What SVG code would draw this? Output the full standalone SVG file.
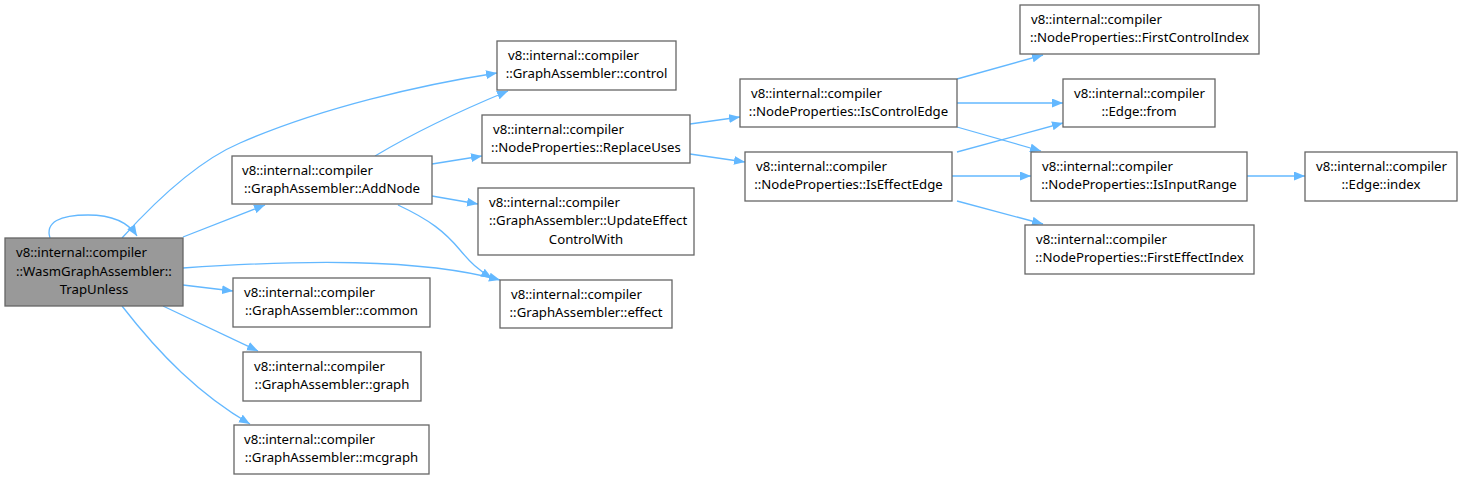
<svg xmlns="http://www.w3.org/2000/svg" width="1473" height="479" viewBox="0 0 1473 479">
<style>
.n rect{fill:#fff;stroke:#666;stroke-width:1.3}
.n.cur rect{fill:#999}
.n text{font-family:"Noto Sans","Open Sans","DejaVu Sans",sans-serif;font-size:13.2px;fill:#000}
.n text.c{text-anchor:middle}
#edges path{fill:none;stroke:#63b8ff;stroke-width:1.3;marker-end:url(#ah)}
</style>
<defs>
<marker id="ah" markerUnits="userSpaceOnUse" markerWidth="12" markerHeight="9" refX="11" refY="4.5" orient="auto">
<path d="M0,0 L11,4.5 L0,9 z" fill="#63b8ff"/>
</marker>
</defs>
<rect width="1473" height="479" fill="#fff"/>
<g id="edges">
<path d="M50,238 C45,222 60,215 88,215 C112,215 128,222 137,236"/>
<path d="M122,238 C160,196 200,160 240,143 C320,108 420,85 497,73"/>
<path d="M183,237 L265,205"/>
<path d="M183,268 C300,260 420,258 500,280"/>
<path d="M183,285 L233,291"/>
<path d="M163,306 L258,351"/>
<path d="M122,306 C160,355 200,395 250,424"/>
<path d="M375,156 C410,135 450,115 508,91"/>
<path d="M432,164 L482,156"/>
<path d="M432,196 L478,204"/>
<path d="M398,205 C430,220 445,232 460,250 C470,262 478,270 492,278"/>
<path d="M690,124 L740,117"/>
<path d="M690,154 L745,162"/>
<path d="M957,79 L1043,55"/>
<path d="M957,103 L1063,103"/>
<path d="M957,127 L1041,151"/>
<path d="M957,152 L1063,123"/>
<path d="M952,176 L1031,176"/>
<path d="M957,201 L1043,224"/>
<path d="M1247,176 L1305,176"/>
</g>
<g id="TrapUnless" class="n cur">
<rect x="5" y="238" width="178" height="68"/>
<text x="16" y="257">v8::internal::compiler</text>
<text x="16" y="276">::WasmGraphAssembler::</text>
<text class="c" x="94" y="294">TrapUnless</text>
</g>
<g id="AddNode" class="n">
<rect x="232" y="156" width="200" height="48"/>
<text x="242" y="175">v8::internal::compiler</text>
<text class="c" x="332" y="193">::GraphAssembler::AddNode</text>
</g>
<g id="common" class="n">
<rect x="233" y="278" width="197" height="49"/>
<text x="244" y="297">v8::internal::compiler</text>
<text class="c" x="331.5" y="315">::GraphAssembler::common</text>
</g>
<g id="graph" class="n">
<rect x="243" y="352" width="178" height="49"/>
<text x="254" y="371">v8::internal::compiler</text>
<text class="c" x="332" y="389">::GraphAssembler::graph</text>
</g>
<g id="mcgraph" class="n">
<rect x="234" y="425" width="195" height="49"/>
<text x="244" y="444">v8::internal::compiler</text>
<text class="c" x="331.5" y="462">::GraphAssembler::mcgraph</text>
</g>
<g id="control" class="n">
<rect x="497" y="41" width="179" height="49"/>
<text x="508" y="60">v8::internal::compiler</text>
<text class="c" x="586.5" y="78">::GraphAssembler::control</text>
</g>
<g id="ReplaceUses" class="n">
<rect x="482" y="115" width="208" height="48"/>
<text x="493" y="134">v8::internal::compiler</text>
<text class="c" x="586" y="152">::NodeProperties::ReplaceUses</text>
</g>
<g id="UpdateEffectControlWith" class="n">
<rect x="478" y="188" width="216" height="67"/>
<text x="489" y="207">v8::internal::compiler</text>
<text x="489" y="225">::GraphAssembler::UpdateEffect</text>
<text class="c" x="586" y="244">ControlWith</text>
</g>
<g id="effect" class="n">
<rect x="500" y="280" width="172" height="48"/>
<text x="511" y="299">v8::internal::compiler</text>
<text class="c" x="586" y="317">::GraphAssembler::effect</text>
</g>
<g id="IsControlEdge" class="n">
<rect x="740" y="79" width="217" height="48"/>
<text x="751" y="98">v8::internal::compiler</text>
<text class="c" x="848.5" y="116">::NodeProperties::IsControlEdge</text>
</g>
<g id="IsEffectEdge" class="n">
<rect x="745" y="152" width="207" height="49"/>
<text x="756" y="171">v8::internal::compiler</text>
<text class="c" x="848.5" y="189">::NodeProperties::IsEffectEdge</text>
</g>
<g id="FirstControlIndex" class="n">
<rect x="1020" y="5" width="239" height="49"/>
<text x="1031" y="24">v8::internal::compiler</text>
<text class="c" x="1139.5" y="42">::NodeProperties::FirstControlIndex</text>
</g>
<g id="EdgeFrom" class="n">
<rect x="1063" y="79" width="152" height="48"/>
<text x="1074" y="98">v8::internal::compiler</text>
<text class="c" x="1139" y="116">::Edge::from</text>
</g>
<g id="IsInputRange" class="n">
<rect x="1031" y="152" width="216" height="49"/>
<text x="1042" y="171">v8::internal::compiler</text>
<text class="c" x="1139" y="189">::NodeProperties::IsInputRange</text>
</g>
<g id="FirstEffectIndex" class="n">
<rect x="1025" y="225" width="229" height="49"/>
<text x="1036" y="244">v8::internal::compiler</text>
<text class="c" x="1139.5" y="262">::NodeProperties::FirstEffectIndex</text>
</g>
<g id="EdgeIndex" class="n">
<rect x="1305" y="152" width="152" height="49"/>
<text x="1316" y="171">v8::internal::compiler</text>
<text class="c" x="1381" y="189">::Edge::index</text>
</g>
</svg>
